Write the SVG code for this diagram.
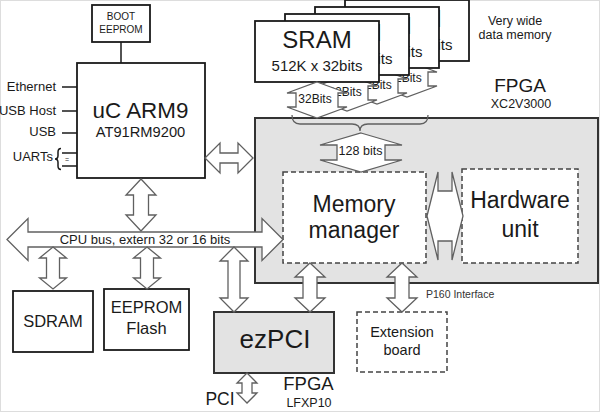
<svg xmlns="http://www.w3.org/2000/svg" width="600" height="412" viewBox="0 0 600 412">
<style>
text{font-family:"Liberation Sans",Arial,sans-serif;fill:#1a1a1a;text-anchor:middle}
.box{fill:#fff;stroke:#1a1a1a;stroke-width:1.8}
.gbox{fill:#e3e3e3;stroke:#333;stroke-width:2}
.dash{fill:#fff;stroke:#444;stroke-width:1.5;stroke-dasharray:5 3}
.arr{fill:#fff;stroke:#606060;stroke-width:1.3;stroke-linejoin:miter}
.ln{stroke:#1a1a1a;stroke-width:1.5;fill:none}
.brace{stroke:#606060;stroke-width:1.3;fill:none}
.r{text-anchor:end}
</style>
<defs>
<polygon id="sramArrow" points="0,0 30,11 21,11 21,25 30,25 0,36 -30,25 -21,25 -21,11 -30,11"/>
</defs>
<rect x="0.5" y="0.5" width="599" height="411" fill="#fff" stroke="#dddddd"/>

<g id="fpga">
<rect class="gbox" x="255" y="118" width="343" height="165"/>
<text x="520" y="92" font-size="19">FPGA</text>
<text x="521" y="108" font-size="12.5">XC2V3000</text>
</g>

<g id="sram-note"><text x="515" y="25" font-size="12.5">Very wide</text><text x="515" y="39" font-size="12.5">data memory</text></g>

<g id="sram-4">
<rect class="box" x="345" y="0" width="124" height="61"/>
<text x="407" y="27" font-size="24">SRAM</text><text x="407" y="50" font-size="15">512K x 32bits</text>
</g>
<g class="connectors" id="bus-sram-4"><use href="#sramArrow" class="arr" x="407" y="61"/><text x="405" y="82" font-size="12">32Bits</text></g>
<g id="sram-3">
<rect class="box" x="315" y="7" width="124" height="61"/>
<text x="377" y="34" font-size="24">SRAM</text><text x="377" y="57" font-size="15">512K x 32bits</text>
</g>
<g class="connectors" id="bus-sram-3"><use href="#sramArrow" class="arr" x="377" y="68"/><text x="375" y="89" font-size="12">32Bits</text></g>
<g id="sram-2">
<rect class="box" x="285" y="14" width="124" height="61"/>
<text x="347" y="41" font-size="24">SRAM</text><text x="347" y="64" font-size="15">512K x 32bits</text>
</g>
<g class="connectors" id="bus-sram-2"><use href="#sramArrow" class="arr" x="347" y="75"/><text x="345" y="96" font-size="12">32Bits</text></g>
<g id="sram-1">
<rect class="box" x="255" y="21" width="124" height="61"/>
<text x="317" y="48" font-size="24">SRAM</text><text x="317" y="71" font-size="15">512K x 32bits</text>
</g>
<g class="connectors" id="bus-sram-1"><use href="#sramArrow" class="arr" x="317" y="82"/><text x="315" y="103" font-size="12">32Bits</text></g>

<g id="boot">
<rect class="box" x="92" y="5" width="58" height="37"/>
<text x="121" y="20" font-size="10">BOOT</text><text x="121" y="33" font-size="10">EEPROM</text>
</g>

<g id="arm">
<rect class="box" x="77" y="63" width="128" height="115"/>
<text x="140.5" y="118" font-size="22.4">uC ARM9</text>
<text x="140.5" y="137" font-size="14.7">AT91RM9200</text>
</g>

<g id="io-labels">
<text class="r" x="56" y="91" font-size="13">Ethernet</text>
<text class="r" x="56" y="115" font-size="13">USB Host</text>
<text class="r" x="56" y="136" font-size="13">USB</text>
<text class="r" x="53" y="161" font-size="13">UARTs</text>
</g>

<g id="mm">
<rect class="dash" x="283" y="172" width="143" height="91"/>
<text x="354" y="212" font-size="23">Memory</text><text x="354" y="238" font-size="23">manager</text>
</g>
<g id="hw">
<rect class="dash" x="462" y="169" width="116" height="94"/>
<text x="520" y="208" font-size="23">Hardware</text><text x="520" y="237" font-size="23">unit</text>
</g>

<g id="sdram">
<rect class="box" x="13" y="291" width="80" height="61"/>
<text x="53" y="327" font-size="16.5">SDRAM</text>
</g>
<g id="eeprom">
<rect class="box" x="104" y="289" width="85" height="61"/>
<text x="146.5" y="313" font-size="16.5">EEPROM</text><text x="146.5" y="334" font-size="16.5">Flash</text>
</g>
<g id="ezpci">
<rect class="gbox" x="214" y="312" width="120" height="61"/>
<text x="275" y="348" font-size="26">ezPCI</text>
<text x="308.5" y="390" font-size="18.5">FPGA</text>
<text x="309" y="407" font-size="12.5">LFXP10</text>
</g>
<g id="ext">
<rect class="dash" x="357" y="312" width="90" height="60"/>
<text x="402" y="337" font-size="14.5">Extension</text><text x="402" y="355" font-size="14.5">board</text>
</g>

<g id="connectors">
<line class="ln" x1="121" y1="42" x2="121" y2="63"/>
<line class="ln" x1="62" y1="87" x2="77" y2="87"/>
<line class="ln" x1="62" y1="111" x2="77" y2="111"/>
<line class="ln" x1="62" y1="133" x2="77" y2="133"/>
<line class="ln" x1="62" y1="153" x2="77" y2="153"/>
<line class="ln" x1="62" y1="166" x2="77" y2="166"/>
<path class="ln" stroke-width="1" d="M61,148.5 Q58,148.5 58,152 L58,155.5 Q58,159 55,159 Q58,159 58,162.5 L58,166 Q58,169.5 61,169.5"/>
<text x="67" y="162" font-size="7">=</text>
<path class="brace" d="M292,115 Q292,124 300,124 L352,124 Q360,124 360,131 Q360,124 368,124 L420,124 Q428,124 428,115"/>
<polygon class="arr" points="361,133 402,145 385,145 385,160 402,160 361,172 320,160 337,160 337,145 320,145"/>
<text x="360.5" y="155" font-size="12.5">128 bits</text>
<polygon class="arr" points="205,158 220,143 220,153 238,153 238,143 253,158 238,173 238,163 220,163 220,173"/>
<polygon class="arr" points="141,179 156,195 148.5,195 148.5,215 156,215 141,231 126,215 133.5,215 133.5,195 126,195"/>
<polygon class="arr" points="7,239.5 28,218.5 28,232 262,232 262,218.5 283,239.5 262,260.5 262,247 28,247 28,260.5"/>
<text x="145" y="243.5" font-size="13">CPU bus, extern 32 or 16 bits</text>
<polygon class="arr" points="427,216 438,172 438,191 452,191 452,172 463,216 452,260 452,241 438,241 438,260"/>
<polygon class="arr" points="53,247 66.5,258 59.5,258 59.5,278 66.5,278 53,289 39.5,278 46.5,278 46.5,258 39.5,258"/>
<polygon class="arr" points="147,247 160.5,258 153.5,258 153.5,278 160.5,278 147,289 133.5,278 140.5,278 140.5,258 133.5,258"/>
<polygon class="arr" points="234,247 248,261 240,261 240,298 248,298 234,312 220,298 228,298 228,261 220,261"/>
<polygon class="arr" points="310,263 325,277 317,277 317,298 325,298 310,312 295,298 303,298 303,277 295,277"/>
<polygon class="arr" points="402,263 417,277 409,277 409,298 417,298 402,312 387,298 395,298 395,277 387,277"/>
<text x="426" y="298" font-size="10.5" style="text-anchor:start;fill:#333">P160 Interface</text>
<polygon class="arr" points="247,373 257,383 252,383 252,393 257,393 247,403 237,393 242,393 242,383 237,383"/>
<text x="220" y="405" font-size="17.5">PCI</text>
</g>
</svg>
